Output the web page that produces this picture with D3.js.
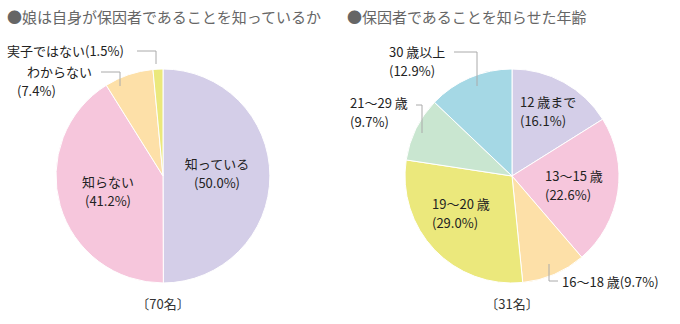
<!DOCTYPE html>
<html>
<head>
<meta charset="utf-8">
<script src="https://cdn.jsdelivr.net/npm/d3@7/dist/d3.min.js"></script>
<style>
  body { margin: 0; background: #fff; }
  text { font-family: "Noto Sans CJK JP", "Noto Sans", sans-serif; }
</style>
</head>
<body>
<div id="chart"></div>
<script>
// left pie: does the daughter know she is a carrier
var knowLabels = ["知っている", "知らない", "わからない", "実子ではない"];
var knowValues = [50.0, 41.2, 7.4, 1.5];
var knowTotal = "〔70名〕";

// right pie: age when told
var ageLabels = ["12 歳まで", "13〜15 歳", "16〜18 歳", "19〜20 歳", "21〜29 歳", "30 歳以上"];
var ageValues = [16.1, 22.6, 9.7, 29.0, 9.7, 12.9];
var ageTotal = "〔31名〕";

var knowColors = ["#d4cee8", "#f6c6dc", "#fde0a8", "#ebe87c"];
var ageColors = ["#d4cee8", "#f6c6dc", "#fde0a8", "#ebe87c", "#c9e6d0", "#a5d8e5"];

var svgWidth = 680;
var svgHeight = 324;

var svg = d3.select("#chart")
  .append("svg")
  .attr("width", svgWidth)
  .attr("height", svgHeight);

var pie = d3.pie().sort(null).value(d => d);
var radius = 107;
var arc = d3.arc().innerRadius(0).outerRadius(radius);

function fmt(v) {
  return "(" + v.toFixed(1) + "%)";
}

function drawPie(cx, cy, values, colors) {
  var g = svg.append("g")
    .attr("transform", `translate(${cx}, ${cy})`);
  g.selectAll("path")
    .data(pie(values))
    .enter()
    .append("path")
    .attr("d", arc)
    .attr("fill", (d, i) => colors[i])
    .attr("stroke", "#fff")
    .attr("stroke-width", 1);
  return g;
}

// titles
svg.append("text")
  .attr("x", 7)
  .attr("y", 23)
  .attr("font-size", "15px")
  .attr("fill", "#666")
  .text("●娘は自身が保因者であることを知っているか");

svg.append("text")
  .attr("x", 347)
  .attr("y", 23)
  .attr("font-size", "15px")
  .attr("fill", "#666")
  .text("●保因者であることを知らせた年齢");

drawPie(163, 176, knowValues, knowColors);
drawPie(512, 176, ageValues, ageColors);

// one text element per line
function label(x, y, lines, anchor) {
  lines.forEach(function(l, i) {
    svg.append("text")
      .attr("x", x)
      .attr("y", y + i * 19)
      .attr("font-size", "13px")
      .attr("fill", "#222")
      .attr("text-anchor", anchor || "start")
      .text(l);
  });
}

function leader(points) {
  svg.append("path")
    .attr("d", d3.line()(points))
    .attr("fill", "none")
    .attr("stroke", "#aaa")
    .attr("stroke-width", 1);
}

// left pie labels
label(217, 169, [knowLabels[0], fmt(knowValues[0])], "middle");
label(108, 187, [knowLabels[1], fmt(knowValues[1])], "middle");
label(27, 77, [knowLabels[2]], "start");
label(17, 96, [fmt(knowValues[2])], "start");
label(7, 56, [knowLabels[3] + fmt(knowValues[3])], "start");
leader([[137, 51], [156, 51], [156, 64]]);
leader([[101, 72], [120, 72], [120, 86]]);

svg.append("text")
  .attr("x", 163)
  .attr("y", 309)
  .attr("font-size", "13px")
  .attr("fill", "#333")
  .attr("text-anchor", "middle")
  .text(knowTotal);

// right pie labels
label(520, 107, [ageLabels[0], fmt(ageValues[0])], "start");
label(545, 181, [ageLabels[1], fmt(ageValues[1])], "start");
label(562, 287, [ageLabels[2] + fmt(ageValues[2])], "start");
label(432, 209, [ageLabels[3], fmt(ageValues[3])], "start");
label(350, 108, [ageLabels[4], fmt(ageValues[4])], "start");
label(389, 57, [ageLabels[5], fmt(ageValues[5])], "start");
leader([[454, 52], [477, 52], [477, 86]]);
leader([[416, 105], [422, 105], [422, 133]]);
leader([[549, 264], [549, 281], [558, 281]]);

svg.append("text")
  .attr("x", 512)
  .attr("y", 309)
  .attr("font-size", "13px")
  .attr("fill", "#333")
  .attr("text-anchor", "middle")
  .text(ageTotal);
</script>
</body>
</html>
